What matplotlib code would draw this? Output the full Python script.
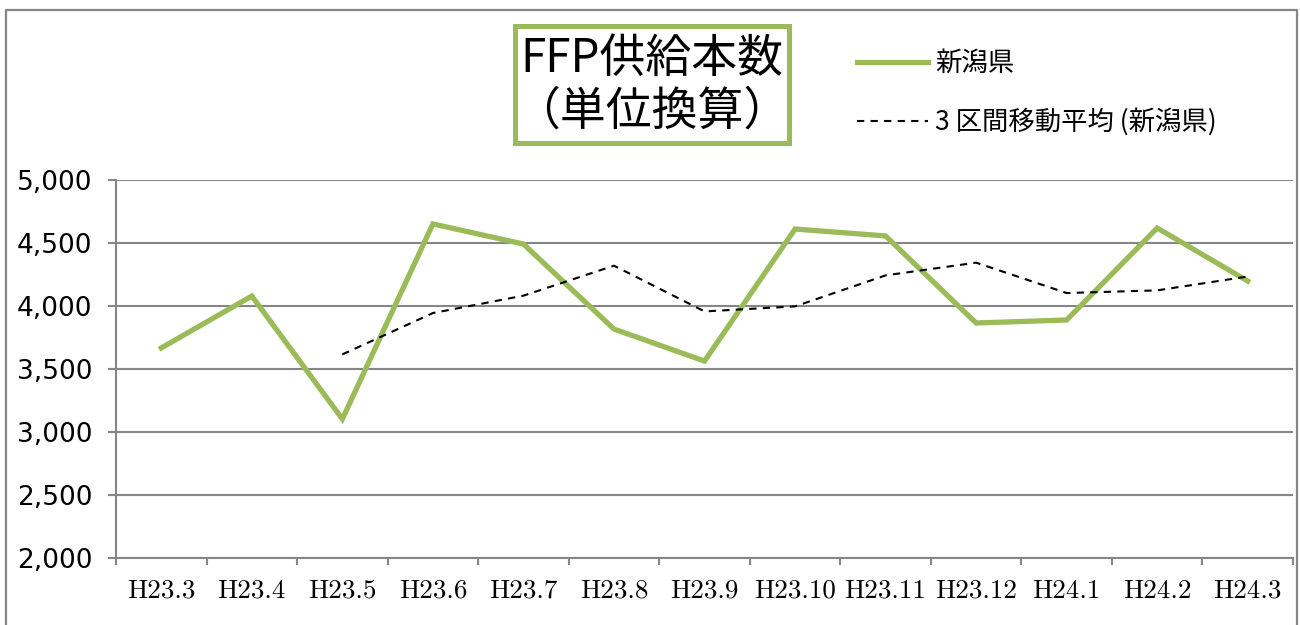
import matplotlib.pyplot as plt
from matplotlib.lines import Line2D
from matplotlib.patches import Rectangle

plt.rcParams['font.family'] = ['Noto Sans CJK JP', 'DejaVu Sans']

months = ['H23.3', 'H23.4', 'H23.5', 'H23.6', 'H23.7', 'H23.8', 'H23.9',
          'H23.10', 'H23.11', 'H23.12', 'H24.1', 'H24.2', 'H24.3']
niigata = [3667, 4079, 3103, 4651, 4492, 3817, 3563, 4611, 4556, 3865, 3889, 4619, 4198]
# 3-period moving average, starts at H23.5
ma_months = months[2:]
ma_values = [3616, 3944, 4082, 4320, 3957, 3997, 4243, 4344, 4103, 4124, 4234]

green = '#9BBB59'
grey = '#868686'
dash = (0, (3.5, 3))

fig = plt.figure(figsize=(13, 6.25), dpi=100)
ax = fig.add_axes([116/1300, 1-558/625, (1293-116)/1300, (558-180)/625])

x = list(range(len(months)))
ma_x = [months.index(m) for m in ma_months]
ax.plot(x, niigata, color=green, lw=3.8, solid_joinstyle='miter', zorder=3)
ax.plot(ma_x, ma_values, color='black', lw=1.5, ls=dash, zorder=4)

ax.set_xlim(-0.5, len(months) - 0.5)
ax.set_ylim(2000, 5000)
ax.set_yticks(range(2000, 5001, 500))
ax.set_yticklabels([f'{v:,}' for v in range(2000, 5001, 500)],
                   fontsize=19, family='DejaVu Sans')
ax.grid(axis='y', color=grey, lw=1.5)
ax.set_axisbelow(True)

ax.set_xticks([i - 0.5 for i in range(len(months) + 1)])
ax.set_xticklabels([])
ax.set_xticks(x, minor=True)
ax.set_xticklabels(months, minor=True, fontsize=19.5, family='cmr10')
ax.tick_params(axis='x', which='minor', length=0, pad=15)
ax.tick_params(axis='x', which='major', length=5, width=1.5, color=grey, direction='out')
ax.tick_params(axis='y', length=6, width=1.5, color=grey, pad=11)

for s in ['top', 'right']:
    ax.spines[s].set_visible(False)
for s in ['left', 'bottom']:
    ax.spines[s].set_color(grey)
    ax.spines[s].set_linewidth(1.5)

# title box
fig.add_artist(Rectangle((515/1300, 1-143/625), (789-515)/1300, (143-26)/625,
                         transform=fig.transFigure, fc='white', ec=green, lw=3.6))
fig.text(652/1300, 1-85/625, 'FFP供給本数\n（単位換算）', ha='center', va='center',
         fontsize=33, linespacing=1.1)

handles = [Line2D([], [], color=green, lw=3.8),
           Line2D([], [], color='black', lw=1.5, ls=dash)]
fig.legend(handles, ['新潟県', '3 区間移動平均 (新潟県)'], loc='upper left',
           bbox_to_anchor=(833/1300, 1-26/625), frameon=False, fontsize=19,
           handlelength=2.7, handletextpad=0.27, labelspacing=1.2)

# outer border
fig.add_artist(Line2D([6/1300, 6/1300, 1297/1300, 1297/1300], [0, 1-10/625, 1-10/625, 0],
                      color=grey, lw=1.6, transform=fig.transFigure))

fig.savefig('out.png', dpi=100)
